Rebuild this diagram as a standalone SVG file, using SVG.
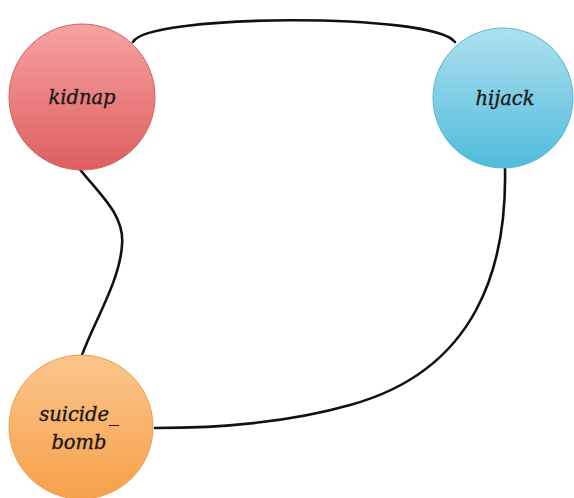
<svg xmlns="http://www.w3.org/2000/svg" width="574" height="498" viewBox="0 0 574 498">
<style>
.lbl{font-family:"DejaVu Serif","Liberation Serif",serif;font-style:italic;font-size:19.5px;fill:#1a1a1a;stroke:#1a1a1a;stroke-width:0.35;text-anchor:middle}
.edge{fill:none;stroke:#111;stroke-width:2.6;stroke-linecap:round}
</style>
<defs>
<linearGradient id="gRed" x1="0" y1="0" x2="0" y2="1"><stop offset="0" stop-color="#F7A3A3"/><stop offset="1" stop-color="#DE5E5E"/></linearGradient>
<linearGradient id="gBlue" x1="0" y1="0" x2="0" y2="1"><stop offset="0" stop-color="#AEE0EE"/><stop offset="1" stop-color="#4FBCDB"/></linearGradient>
<linearGradient id="gOrange" x1="0" y1="0" x2="0" y2="1"><stop offset="0" stop-color="#FBC68C"/><stop offset="1" stop-color="#F6A04A"/></linearGradient>
</defs>
<rect width="574" height="498" fill="#fff"/>
<g id="connectors">
<path class="edge" d="M133,42 C146,14 432,12 455,42"/>
<path class="edge" d="M78,167 C100,195 125,215 122,245 C120,280 95,320 82,355"/>
<path class="edge" d="M505,168 C507,265 478,370 350,405 C280,425 200,428 155,428"/>
</g>
<g id="kidnap">
<circle cx="82" cy="97" r="73" fill="url(#gRed)" stroke="#D06060" stroke-width="1"/>
<text class="lbl" x="82" y="104">kidnap</text>
</g>
<g id="hijack">
<circle cx="503" cy="98" r="70" fill="url(#gBlue)" stroke="#5AB8D4" stroke-width="1"/>
<text class="lbl" x="505" y="105">hijack</text>
</g>
<g id="suicide_bomb">
<circle cx="81" cy="427" r="72" fill="url(#gOrange)" stroke="#EE9A45" stroke-width="1"/>
<text class="lbl" x="79" y="421">suicide_</text>
<text class="lbl" x="79" y="449">bomb</text>
</g>
</svg>
